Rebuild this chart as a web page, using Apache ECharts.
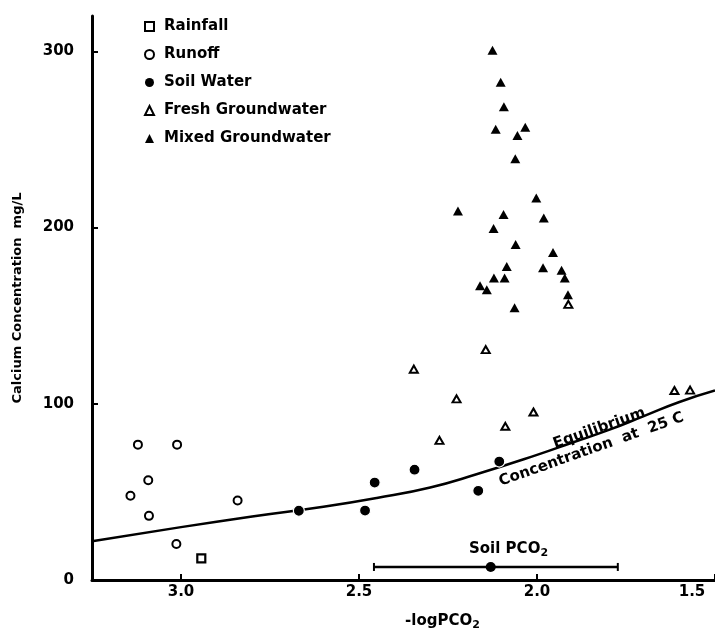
<!DOCTYPE html>
<html>
<head>
<meta charset="utf-8">
<script src="https://cdn.jsdelivr.net/npm/echarts@6/dist/echarts.min.js"></script>
<style>
html,body{margin:0;padding:0;background:#fff;}
#chart{width:715px;height:636px;}
</style>
</head>
<body>
<div id="chart"></div>
<script>
// ---- data ----
var xTicks = [1.5, 2.0, 2.5, 3.0];
var yTicks = [0, 100, 200, 300];

var rainfallX = [2.943];
var rainfallY = [12.3];

var runoffX = [3.121, 3.011, 3.092, 3.142, 3.090, 3.013, 2.841];
var runoffY = [76.8, 76.8, 56.6, 47.8, 36.4, 20.4, 45.1];

var soilX = [2.669, 2.483, 2.456, 2.344, 2.165, 2.106];
var soilY = [39.3, 39.4, 55.3, 62.6, 50.6, 67.2];

var freshX = [2.346, 2.226, 2.274, 2.144, 2.089, 2.010, 1.912, 1.614, 1.570];
var freshY = [119.6, 102.8, 79.2, 130.7, 87.2, 95.3, 156.4, 107.5, 107.7];

var mixedX = [2.125, 2.102, 2.093, 2.116, 2.033, 2.055, 2.061, 2.002, 2.222, 2.094, 1.981, 2.122,
              2.060, 1.955, 2.085, 1.983, 1.931, 2.121, 2.091, 1.922, 2.160, 2.141, 1.913, 2.063];
var mixedY = [300.5, 282.4, 268.5, 255.8, 256.9, 252.2, 239.0, 216.7, 209.4, 207.4, 205.4, 199.4,
              190.4, 185.8, 177.9, 177.1, 175.8, 171.3, 171.3, 171.3, 167.0, 164.7, 161.9, 154.5];

var eqX = [3.25, 3.0, 2.8, 2.6, 2.45, 2.3, 2.17, 2.0, 1.9, 1.8, 1.7, 1.6, 1.5];
var eqY = [22, 30, 36, 41.5, 46.5, 52.5, 60, 71, 78, 85, 93, 101, 107.5];

var soilPco2Range = [2.458, 1.773];
var soilPco2Mean = [2.130];
var soilPco2Y = 7.4;

var seriesNames = ['Rainfall', 'Runoff', 'Soil Water', 'Fresh Groundwater', 'Mixed Groundwater'];
var eqLabel1 = 'Equilibrium';
var eqLabel2 = 'Concentration  at  25 C';
var eqLabelPos1 = [1.825, 86.0];
var eqLabelPos2 = [1.847, 74.0];
var soilLabelPos = [2.08, 17.5];

function zip(xs, ys) { return xs.map(function (x, i) { return [x, ys[i]]; }); }

var FONT = '"DejaVu Sans", "Liberation Sans", Arial, sans-serif';

var chart = echarts.init(document.getElementById('chart'), null, {renderer: 'canvas'});

var legendData = seriesNames.map(function (n, i) {
  var d = {name: n};
  if (i === 2) d.itemStyle = {borderColor: '#000', borderWidth: 0};
  return d;
});

var option = {
  backgroundColor: '#fff',
  animation: false,
  grid: {left: 92, right: -7, top: 16, bottom: 54, containLabel: false},
  legend: {
    orient: 'vertical', left: 139, top: 14,
    itemWidth: 9, itemHeight: 9, itemGap: 13,
    data: legendData,
    textStyle: {fontFamily: FONT, fontWeight: 'bold', fontSize: 15, color: '#000', padding: [0, 0, 0, 5]}
  },
  xAxis: {
    type: 'value', inverse: true, min: 1.5, max: 3.25, interval: 0.5,
    name: '-logPCO{s|2}', nameLocation: 'middle', nameGap: 32,
    nameTextStyle: {fontFamily: FONT, fontWeight: 'bold', fontSize: 15, color: '#000', padding: [0, 0, 0, 78],
      rich: {s: {fontFamily: FONT, fontWeight: 'bold', fontSize: 11, color: '#000', padding: [8, 0, 0, 0]}}},
    axisLine: {show: true, onZero: false, lineStyle: {color: '#000', width: 3}},
    axisTick: {show: true, inside: true, length: 6, lineStyle: {color: '#000', width: 2}, customValues: xTicks},
    axisLabel: {
      customValues: xTicks, margin: 5,
      fontFamily: FONT, fontWeight: 'bold', fontSize: 15, color: '#000',
      formatter: function (v) { return v === 1.5 ? '{r|1.5}' : v.toFixed(1); },
      rich: {r: {fontFamily: FONT, fontWeight: 'bold', fontSize: 15, color: '#000', padding: [0, 46, 0, 0]}}
    },
    splitLine: {show: false}
  },
  yAxis: {
    type: 'value', min: 0, max: 320, interval: 100,
    name: 'Calcium Concentration  mg/L', nameLocation: 'middle', nameGap: 68, nameRotate: 90,
    nameTextStyle: {fontFamily: FONT, fontWeight: 'bold', fontSize: 13, color: '#000'},
    axisLine: {show: true, onZero: false, lineStyle: {color: '#000', width: 3}},
    axisTick: {show: true, inside: true, length: 6, lineStyle: {color: '#000', width: 2}, customValues: yTicks},
    axisLabel: {customValues: yTicks, margin: 18, fontFamily: FONT, fontWeight: 'bold', fontSize: 15, color: '#000'},
    splitLine: {show: false}
  },
  series: [
    {
      name: 'eq', type: 'line', data: zip(eqX, eqY), smooth: true, showSymbol: false, symbol: 'none',
      lineStyle: {color: '#000', width: 2.5}, z: 1, silent: true, legendHoverLink: false
    },
    {
      name: 'soilpco2', type: 'line', data: zip(soilPco2Range, [soilPco2Y, soilPco2Y]),
      symbol: 'rect', symbolSize: [2, 8], showSymbol: true,
      itemStyle: {color: '#000', opacity: 1}, lineStyle: {color: '#000', width: 2.5}, z: 2
    },
    {
      name: 'soilpco2mean', type: 'scatter', data: zip(soilPco2Mean, [soilPco2Y]),
      symbol: 'circle', symbolSize: 10, itemStyle: {color: '#000', opacity: 1}, z: 3
    },
    {
      name: seriesNames[0], type: 'scatter', data: zip(rainfallX, rainfallY),
      symbol: 'rect', symbolSize: 8,
      itemStyle: {color: '#fff', borderColor: '#000', borderWidth: 2.2, opacity: 1}, z: 4
    },
    {
      name: seriesNames[1], type: 'scatter', data: zip(runoffX, runoffY),
      symbol: 'circle', symbolSize: 8,
      itemStyle: {color: '#fff', borderColor: '#000', borderWidth: 2, opacity: 1}, z: 4
    },
    {
      name: seriesNames[2], type: 'scatter', data: zip(soilX, soilY),
      symbol: 'circle', symbolSize: 11,
      itemStyle: {color: '#000', borderColor: '#fff', borderWidth: 1.2, opacity: 1}, z: 4
    },
    {
      name: seriesNames[3], type: 'scatter', data: zip(freshX, freshY),
      symbol: 'triangle', symbolSize: [8, 7],
      itemStyle: {color: '#fff', borderColor: '#000', borderWidth: 2, opacity: 1}, z: 4
    },
    {
      name: seriesNames[4], type: 'scatter', data: zip(mixedX, mixedY),
      symbol: 'triangle', symbolSize: [10, 9],
      itemStyle: {color: '#000', opacity: 1}, z: 4
    }
  ]
};
chart.setOption(option);

function px(p) { return chart.convertToPixel({gridIndex: 0}, p); }
var p1 = px(eqLabelPos1), p2 = px(eqLabelPos2), p3 = px(soilLabelPos);
var rot = 19.5 * Math.PI / 180;
chart.setOption({
  graphic: [
    {type: 'text', x: p1[0], y: p1[1], rotation: rot, z: 10,
      style: {text: eqLabel1, fontFamily: FONT, fontWeight: 'bold', fontSize: 15, fill: '#000', align: 'center', verticalAlign: 'middle'}},
    {type: 'text', x: p2[0], y: p2[1], rotation: rot, z: 10,
      style: {text: eqLabel2, fontFamily: FONT, fontWeight: 'bold', fontSize: 15, fill: '#000', align: 'center', verticalAlign: 'middle'}},
    {type: 'text', x: p3[0], y: p3[1], z: 10,
      style: {text: 'Soil PCO{s|2}', fontFamily: FONT, fontWeight: 'bold', fontSize: 15, fill: '#000', align: 'center', verticalAlign: 'middle',
        rich: {s: {fontFamily: FONT, fontWeight: 'bold', fontSize: 11, fill: '#000', padding: [8, 0, 0, 0]}}}}
  ]
});
</script>
</body>
</html>
